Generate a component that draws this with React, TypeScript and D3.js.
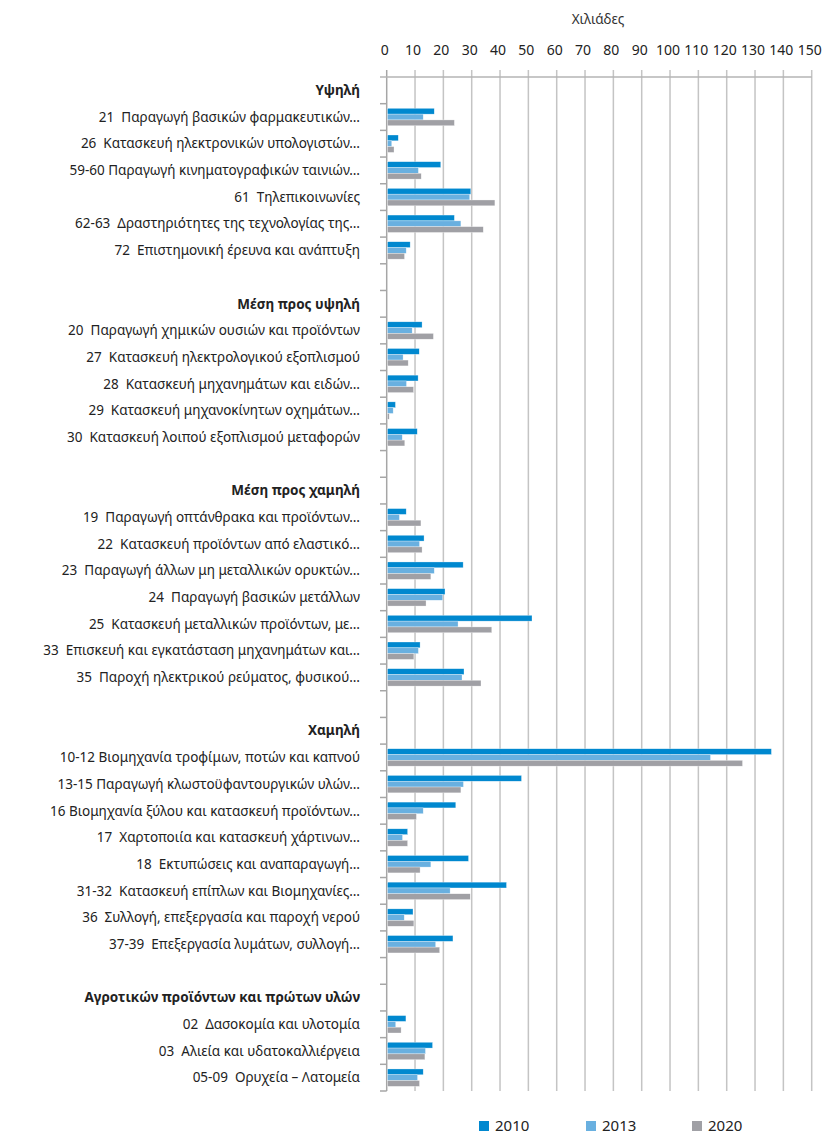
import React from "react";
import * as d3 from "d3";

const groups = [
  "Υψηλή",
  "Μέση προς υψηλή",
  "Μέση προς χαμηλή",
  "Χαμηλή",
  "Αγροτικών προϊόντων και πρώτων υλών",
];

// group index for each category
const groupOf = [0, 0, 0, 0, 0, 0, 1, 1, 1, 1, 1, 2, 2, 2, 2, 2, 2, 2, 3, 3, 3, 3, 3, 3, 3, 3, 4, 4, 4];

const categories = [
  "21  Παραγωγή βασικών φαρμακευτικών…",
  "26  Κατασκευή ηλεκτρονικών υπολογιστών…",
  "59-60 Παραγωγή κινηματογραφικών ταινιών…",
  "61  Τηλεπικοινωνίες",
  "62-63  Δραστηριότητες της τεχνολογίας της…",
  "72  Επιστημονική έρευνα και ανάπτυξη",
  "20  Παραγωγή χημικών ουσιών και προϊόντων",
  "27  Κατασκευή ηλεκτρολογικού εξοπλισμού",
  "28  Κατασκευή μηχανημάτων και ειδών…",
  "29  Κατασκευή μηχανοκίνητων οχημάτων…",
  "30  Κατασκευή λοιπού εξοπλισμού μεταφορών",
  "19  Παραγωγή οπτάνθρακα και προϊόντων…",
  "22  Κατασκευή προϊόντων από ελαστικό…",
  "23  Παραγωγή άλλων μη μεταλλικών ορυκτών…",
  "24  Παραγωγή βασικών μετάλλων",
  "25  Κατασκευή μεταλλικών προϊόντων, με…",
  "33  Επισκευή και εγκατάσταση μηχανημάτων και…",
  "35  Παροχή ηλεκτρικού ρεύματος, φυσικού…",
  "10-12 Βιομηχανία τροφίμων, ποτών και καπνού",
  "13-15 Παραγωγή κλωστοϋφαντουργικών υλών…",
  "16 Βιομηχανία ξύλου και κατασκευή προϊόντων…",
  "17  Χαρτοποιία και κατασκευή χάρτινων…",
  "18  Εκτυπώσεις και αναπαραγωγή…",
  "31-32  Κατασκευή επίπλων και Βιομηχανίες…",
  "36  Συλλογή, επεξεργασία και παροχή νερού",
  "37-39  Επεξεργασία λυμάτων, συλλογή…",
  "02  Δασοκομία και υλοτομία",
  "03  Αλιεία και υδατοκαλλιέργεια",
  "05-09  Ορυχεία – Λατομεία",
];

const values2010 = [16.5, 3.8, 18.8, 29.4, 23.6, 8.0, 12.2, 11.2, 10.8, 2.8, 10.5, 6.6, 12.9, 26.7, 20.3, 51.0, 11.5, 27.0, 135.5, 47.3, 24.1, 7.1, 28.6, 42.0, 9.0, 23.1, 6.5, 15.9, 12.6];
const values2013 = [12.6, 1.5, 10.9, 29.0, 25.9, 6.6, 8.7, 5.5, 6.7, 2.0, 5.2, 4.2, 11.3, 16.5, 19.5, 24.9, 10.9, 26.3, 114.0, 26.8, 12.6, 5.3, 15.3, 22.1, 5.9, 17.0, 2.9, 13.4, 10.6];
const values2020 = [23.6, 2.3, 11.9, 37.9, 33.8, 6.0, 16.2, 7.3, 9.2, 0.6, 6.1, 11.8, 12.2, 15.3, 13.6, 36.8, 9.3, 33.0, 125.3, 25.9, 10.2, 7.1, 11.5, 29.2, 9.3, 18.4, 4.8, 13.2, 11.3];

const years = ["2010", "2013", "2020"];
const colors = ["#0088cf", "#69b0e0", "#a0a0a5"];
const xTicks = d3.range(0, 151, 10);

type Row = { key: string; label: string; kind: "header" | "cat" | "blank"; idx: number };

const rows: Row[] = [];
groups.forEach((g, gi) => {
  rows.push({ key: "h" + gi, label: g, kind: "header", idx: -1 });
  categories.forEach((c, i) => {
    if (groupOf[i] === gi) rows.push({ key: "c" + i, label: c, kind: "cat", idx: i });
  });
  if (gi < groups.length - 1) rows.push({ key: "b" + gi, label: "", kind: "blank", idx: -1 });
});

const W = 822;
const H = 1135;
const left = 386.7;
const right = 811.7;
const top = 77;
const bottom = 1091;
const font = "'Noto Sans', 'Open Sans', sans-serif";

export default function App() {
  const x = d3.scaleLinear().domain([0, 150]).range([left, right]);
  const y = d3
    .scaleBand<string>()
    .domain(rows.map((r) => r.key))
    .range([top, bottom])
    .padding(0);
  const yInner = d3
    .scaleBand<string>()
    .domain(years)
    .range([0, y.bandwidth()])
    .paddingInner(0)
    .paddingOuter(0.8);

  const series = [values2010, values2013, values2020];

  return (
    <svg
      width={W}
      height={H}
      style={{ position: "absolute", left: 0, top: 0, display: "block", background: "#fff" }}
      fontFamily={font}
    >
      {/* title */}
      <text x={598} y={24} textAnchor="middle" fontSize={13.5} fill="#333">
        Χιλιάδες
      </text>

      {/* gridlines */}
      {xTicks.map((t) => (
        <line
          key={"g" + t}
          x1={x(t)}
          x2={x(t)}
          y1={70}
          y2={bottom}
          stroke={t === 0 ? "#a6a6a6" : "#c4c4c4"}
          strokeWidth={1.5}
        />
      ))}
      {xTicks.map((t) => (
        <text key={"t" + t} x={x(t) - 2} y={55} textAnchor="middle" fontSize={14} fill="#222">
          {t}
        </text>
      ))}
      <line x1={380} x2={right} y1={top} y2={top} stroke="#b4b4b4" strokeWidth={1.5} />

      {/* left tick marks at row boundaries */}
      {rows.map((r) => (
        <line
          key={"lt" + r.key}
          x1={380}
          x2={left}
          y1={(y(r.key) as number) + y.bandwidth()}
          y2={(y(r.key) as number) + y.bandwidth()}
          stroke="#a6a6a6"
          strokeWidth={1.5}
        />
      ))}

      {/* bars */}
      {rows
        .filter((r) => r.kind === "cat")
        .map((r) =>
          years.map((yr, si) => {
            const v = series[si][r.idx];
            return (
              <rect
                key={r.key + yr}
                x={x(0) + 0.8}
                y={(y(r.key) as number) + (yInner(yr) as number)}
                width={x(v) - x(0)}
                height={yInner.bandwidth()}
                fill={colors[si]}
                stroke="#ffffff"
                strokeOpacity={0.6}
                strokeWidth={0.5}
              />
            );
          })
        )}

      {/* labels */}
      {rows
        .filter((r) => r.kind !== "blank")
        .map((r) => (
          <text
            key={"l" + r.key}
            x={360}
            y={(y(r.key) as number) + y.bandwidth() / 2}
            dy="0.35em"
            textAnchor="end"
            fontSize={13.5}
            fontWeight={r.kind === "header" ? 700 : 400}
            fill="#222"
            style={{ whiteSpace: "pre" }}
          >
            {r.label}
          </text>
        ))}

      {/* legend */}
      {years.map((yr, i) => {
        const lx = [479, 586, 692][i];
        return (
          <g key={"lg" + yr}>
            <rect x={lx} y={1121} width={10} height={10} fill={colors[i]} />
            <text x={lx + 16} y={1131} fontSize={15} fill="#222">
              {yr}
            </text>
          </g>
        );
      })}
    </svg>
  );
}
